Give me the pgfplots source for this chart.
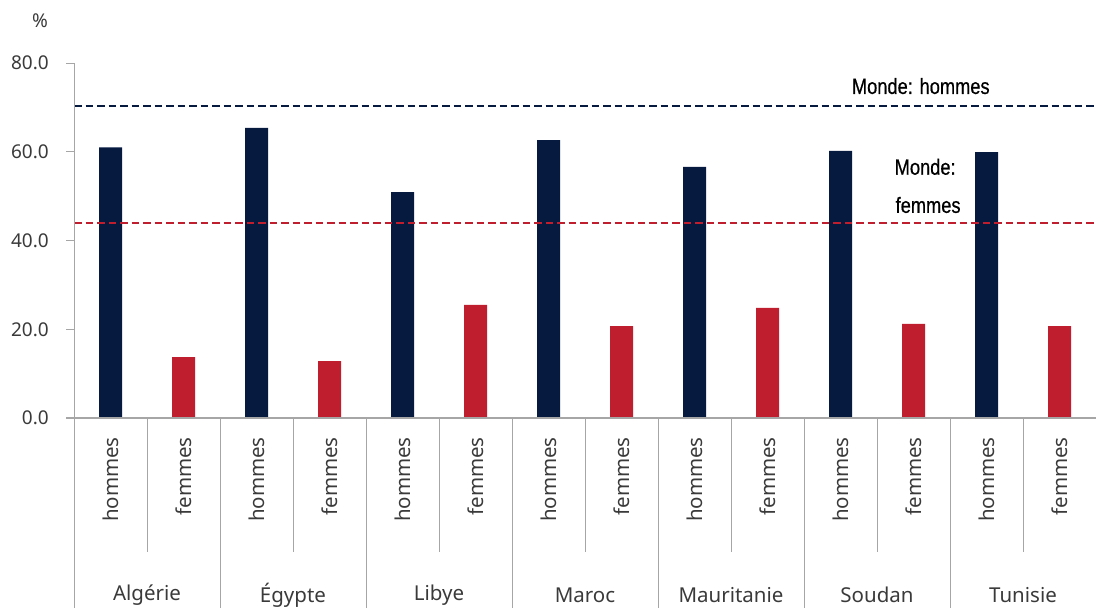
\documentclass[border=0pt]{standalone}
\usepackage{fontspec}
\setmainfont{Noto Sans}
\newfontfamily\condfont[FakeStretch=0.83,FakeBold=0.6]{Liberation Sans}
\usepackage{pgfplots}
\pgfplotsset{compat=1.18}
\definecolor{navy}{HTML}{061A40}
\definecolor{cred}{HTML}{BE1E2D}
\definecolor{axgrey}{HTML}{A6A6A6}
\definecolor{txt}{HTML}{3A3A3A}
\begin{document}
\begin{tikzpicture}[x=1pt,y=1pt]
\path[use as bounding box] (0,0) rectangle (1096,608);
\begin{axis}[
  at={(74pt,190pt)}, anchor=south west,
  scale only axis, width=1022pt, height=355pt,
  xmin=-0.5, xmax=13.5, ymin=0, ymax=80,
  clip=false,
  axis line style={draw=none},
  tick align=outside,
  major tick length=8pt,
  ytick={0,20,40,60,80},
  ytick style={axgrey, line width=1pt},
  xtick style={draw=none},
  yticklabel={\pgfmathprintnumber[fixed,fixed zerofill,precision=1,assume math mode=true]{\tick}},
  yticklabel style={font=\fontsize{19}{19}\selectfont, text=txt, inner sep=0pt},
  yticklabel shift=17pt,
  xtick={0,...,13},
  xticklabels={hommes,femmes,hommes,femmes,hommes,femmes,hommes,femmes,hommes,femmes,hommes,femmes,hommes,femmes},
  xticklabel style={rotate=90, anchor=east, inner sep=0pt, font=\fontsize{20.5}{20.5}\selectfont, text=txt},
  xticklabel shift=11pt,
]
\addplot[ybar, bar width=23pt, bar shift=0pt, fill=navy, draw=none]
  coordinates {(0,61.0) (2,65.4) (4,50.9) (6,62.6) (8,56.6) (10,60.2) (12,59.9)};
\addplot[ybar, bar width=23pt, bar shift=0pt, fill=cred, draw=none]
  coordinates {(1,13.7) (3,12.8) (5,25.5) (7,20.7) (9,24.8) (11,21.2) (13,20.7)};
\addplot[navy, dash pattern=on 7.5pt off 4pt, line width=2pt]
  coordinates {(-0.5,70.3) (13.5,70.3)};
\addplot[cred, dash pattern=on 7.5pt off 4pt, line width=2pt]
  coordinates {(-0.5,43.9) (13.5,43.9)};
% separators
\draw[axgrey, line width=1.2pt] ([xshift=-8pt]axis cs:-0.5,0) -- (axis cs:13.5,0);
\pgfplotsinvokeforeach{0.5,2.5,4.5,6.5,8.5,10.5,12.5}{
  \draw[axgrey, line width=1pt] (axis cs:#1,0) -- ([yshift=-134pt]axis cs:#1,0);
}
\pgfplotsinvokeforeach{1.5,3.5,5.5,7.5,9.5,11.5}{
  \draw[axgrey, line width=1pt] (axis cs:#1,0) -- ([yshift=-190pt]axis cs:#1,0);
}
\node[font=\fontsize{20.5}{20.5}\selectfont, text=txt] at (axis cs:0.5,0) [yshift=-177pt] {Algérie};
\node[font=\fontsize{20.5}{20.5}\selectfont, text=txt] at (axis cs:2.5,0) [yshift=-177pt] {Égypte};
\node[font=\fontsize{20.5}{20.5}\selectfont, text=txt] at (axis cs:4.5,0) [yshift=-177pt] {Libye};
\node[font=\fontsize{20.5}{20.5}\selectfont, text=txt] at (axis cs:6.5,0) [yshift=-177pt] {Maroc};
\node[font=\fontsize{20.5}{20.5}\selectfont, text=txt] at (axis cs:8.5,0) [yshift=-177pt] {Mauritanie};
\node[font=\fontsize{20.5}{20.5}\selectfont, text=txt] at (axis cs:10.5,0) [yshift=-177pt] {Soudan};
\node[font=\fontsize{20.5}{20.5}\selectfont, text=txt] at (axis cs:12.5,0) [yshift=-177pt] {Tunisie};
\node[font=\condfont\fontsize{22}{22}\selectfont, text=black] at (axis cs:11.1,74.8) {Monde: hommes};
\node[font=\condfont\fontsize{22}{22}\selectfont, text=black] at (axis cs:11.16,56.6) {Monde:};
\node[font=\condfont\fontsize{22}{22}\selectfont, text=black] at (axis cs:11.2,48.0) {femmes};
\end{axis}
\draw[axgrey, line width=1.2pt] (74.3,0) -- (74.3,545);
\node[font=\fontsize{19}{19}\selectfont, text=txt] at (40,587) {\%};
\end{tikzpicture}
\end{document}
